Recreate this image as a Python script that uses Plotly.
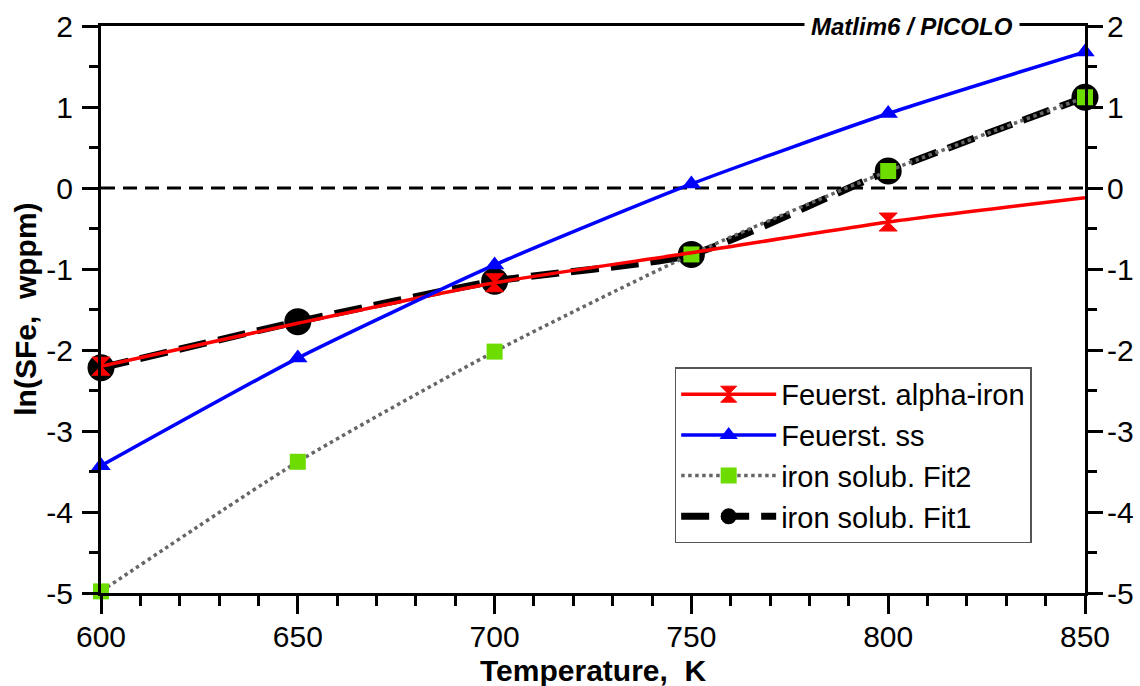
import plotly.graph_objects as go

# ---- data ----
temps = [600, 650, 700, 750, 800, 850]
alpha_iron = [-2.20, -1.67, -1.17, -0.80, -0.42, -0.12]
alpha_marker_on = [1, 0, 1, 0, 1, 0]
feuerst_ss = [-3.43, -2.10, -0.95, 0.05, 0.92, 1.68]
fit2 = [-4.98, -3.38, -2.02, -0.82, 0.21, 1.12]
fit1 = [-2.22, -1.65, -1.15, -0.82, 0.21, 1.12]
zero_x = [600, 850]
zero_y = [0, 0]

x_ticks = [600, 650, 700, 750, 800, 850]
y_ticks = [-5, -4, -3, -2, -1, 0, 1, 2]
y_tick_text = [str(v) for v in y_ticks]

FONT = "Liberation Sans, Arial, sans-serif"
RED = "#ff0000"
BLUE = "#0000ff"
GREEN = "#6ddc00"
GREY = "#666666"

fig = go.Figure()

# zero reference line
fig.add_trace(go.Scatter(x=zero_x, y=zero_y, mode="lines",
                         line=dict(color="black", width=3, dash="14px,8px"),
                         showlegend=False, hoverinfo="skip"))

# Fit1 (black dashed with circles)
fig.add_trace(go.Scatter(x=temps, y=fit1, mode="lines+markers", name="iron solub. Fit1",
                         line=dict(color="black", width=7, dash="28px,12px", shape="spline", smoothing=0.6),
                         marker=dict(symbol="circle", size=27, color="black"),
                         cliponaxis=False, legendrank=4))

# Fit2 (grey dotted with green squares)
fig.add_trace(go.Scatter(x=temps, y=fit2, mode="lines+markers", name="iron solub. Fit2",
                         line=dict(color=GREY, width=3.5, dash="dot", shape="spline", smoothing=0.6),
                         marker=dict(symbol="square", size=16, color=GREEN),
                         cliponaxis=False, legendrank=3))

# Feuerst. alpha-iron (red)
fig.add_trace(go.Scatter(x=temps, y=alpha_iron, mode="lines+markers", name="Feuerst. alpha-iron",
                         line=dict(color=RED, width=3.5, shape="spline", smoothing=0.6),
                         marker=dict(symbol="hourglass", size=[18 * m for m in alpha_marker_on], color=RED,
                                     opacity=1, line=dict(color=RED, width=1)),
                         cliponaxis=False, legendgroup="alpha", showlegend=False))
# legend proxy for red series (no data points)
fig.add_trace(go.Scatter(x=[None], y=[None], mode="lines+markers", name="Feuerst. alpha-iron",
                         line=dict(color=RED, width=3.5),
                         marker=dict(symbol="hourglass", size=16, color=RED, opacity=1,
                                     line=dict(color=RED, width=1)),
                         legendgroup="alpha", legendrank=1))

# Feuerst. ss (blue)
fig.add_trace(go.Scatter(x=temps, y=feuerst_ss, mode="lines+markers", name="Feuerst. ss",
                         line=dict(color=BLUE, width=3.5, shape="spline", smoothing=0.6),
                         marker=dict(symbol="triangle-up", size=17, color=BLUE),
                         cliponaxis=False, legendrank=2))

# dummy trace to activate right axis
fig.add_trace(go.Scatter(x=[None], y=[None], yaxis="y2", showlegend=False, hoverinfo="skip"))

axis_common = dict(showline=True, linecolor="black", linewidth=3,
                   ticks="outside", tickwidth=3, tickcolor="black",
                   tickfont=dict(family=FONT, size=30, color="black"),
                   showgrid=False, zeroline=False, automargin=False)

fig.update_layout(
    width=1140, height=686,
    margin=dict(l=101, r=55, t=26, b=93),
    plot_bgcolor="white", paper_bgcolor="white",
    hovermode=False,
    xaxis=dict(range=[600, 850], tickvals=x_ticks, mirror=True, ticklen=18, ticklabelstandoff=-3,
               minor=dict(ticks="outside", dtick=10, ticklen=10, tickwidth=3, tickcolor="black"),
               **axis_common),
    yaxis=dict(range=[-5, 2], tickvals=y_ticks, ticktext=y_tick_text, ticklen=16, ticklabelstandoff=3,
               minor=dict(ticks="outside", dtick=0.5, ticklen=9, tickwidth=3, tickcolor="black"),
               **axis_common),
    yaxis2=dict(range=[-5, 2], tickvals=y_ticks, ticktext=y_tick_text, overlaying="y", side="right",
                anchor="x", ticklen=15, ticklabelstandoff=-2,
                minor=dict(ticks="outside", dtick=0.5, ticklen=9, tickwidth=3, tickcolor="black"),
                **axis_common),
    legend=dict(x=0.583, y=0.398, xanchor="left", yanchor="top",
                bgcolor="white", bordercolor="#555555", borderwidth=1.5,
                font=dict(family=FONT, size=29, color="black"),
                itemwidth=95, tracegroupgap=0),
    annotations=[
        dict(text="<b><i>Matlim6 / PICOLO</i></b>", xref="paper", yref="paper",
             x=0.824, y=1.0, xanchor="center", yanchor="middle", showarrow=False,
             bgcolor="white", borderpad=6,
             font=dict(family=FONT, size=24, color="black")),
        dict(text="<b>Temperature,\u00a0 K</b>", xref="paper", yref="paper",
             x=0.5, y=-0.136, xanchor="center", yanchor="middle", showarrow=False,
             font=dict(family=FONT, size=30, color="black")),
        dict(text="<b>ln(SFe,\u00a0 wppm)</b>", xref="paper", yref="paper",
             x=-0.077, y=0.5, xanchor="center", yanchor="middle", showarrow=False,
             textangle=-90,
             font=dict(family=FONT, size=30, color="black")),
    ],
)

fig.write_html("out.html")
